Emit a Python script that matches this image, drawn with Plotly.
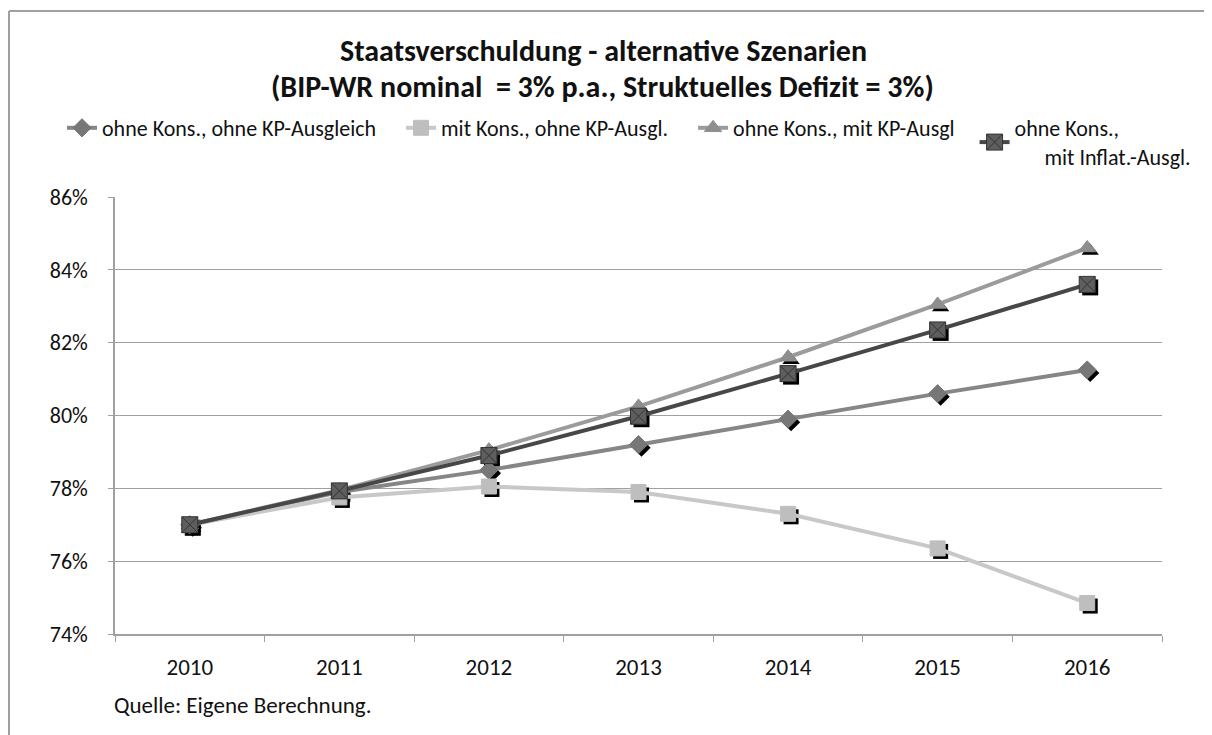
import plotly.graph_objects as go

years = ["2010", "2011", "2012", "2013", "2014", "2015", "2016"]
s_ohne_ohne = [77.0, 77.9, 78.5, 79.2, 79.9, 80.6, 81.25]
s_mit_ohne = [77.0, 77.75, 78.05, 77.9, 77.3, 76.35, 74.85]
s_ohne_mitKP = [77.0, 77.95, 79.05, 80.25, 81.6, 83.05, 84.6]
s_ohne_mitInfl = [77.0, 77.93, 78.9, 79.98, 81.15, 82.35, 83.6]

NB = "\u00a0"
names = ["ohne Kons., ohne KP-Ausgleich" + NB * 4, "mit Kons., ohne KP-Ausgl." + NB * 4,
         "ohne Kons., mit KP-Ausgl" + NB * 3,
         "ohne Kons.,<br>" + NB * 6 + "mit Inflat.-Ausgl."]
y_ticks = [74, 76, 78, 80, 82, 84, 86]
y_tick_labels = ["74%", "76%", "78%", "80%", "82%", "84%", "86%"]
title_1 = "Staatsverschuldung - alternative Szenarien"
title_2 = "(BIP-WR nominal  = 3% p.a., Struktuelles Defizit = 3%)"
source = "Quelle: Eigene Berechnung."

FONT = "Carlito, Calibri, Lato, sans-serif"
OFF = 8  # default body margin of the html page
W, H = 1212 - OFF, 735 - OFF
PX0, PX1, PY0, PY1 = 115, 1162, 197, 634  # plot area in page pixels
L, R, T, B = PX0 - OFF, W - (PX1 - OFF), PY0 - OFF, H - (PY1 - OFF)
pw, ph = PX1 - PX0, PY1 - PY0


def px(x):
    return (x - PX0) / pw


def py(y):
    return (PY1 - y) / ph


series = [s_ohne_ohne, s_mit_ohne, s_ohne_mitKP, s_ohne_mitInfl]
line_cols = ["#868686", "#C8C8C8", "#9B9B9B", "#474747"]
mk_cols = ["#777777", "#BEBEBE", "#8E8E8E", "#5E5E5E"]
symbols = ["diamond", "square", "triangle-up", "square-x"]
sizes = [14, 15, 15, 16]

fig = go.Figure()
for s, sym, sz in zip(series, symbols, sizes):
    fig.add_trace(go.Scatter(x=years, y=s, mode="markers", xaxis="x", yaxis="y",
                             marker=dict(symbol=sym.replace("-x", ""), size=sz, color="#000000"),
                             showlegend=False, hoverinfo="skip"))
for s, n, lc, mc, sym, sz in zip(series, names, line_cols, mk_cols, symbols, sizes):
    fig.add_trace(go.Scatter(x=years, y=s, name=n, mode="lines+markers", xaxis="x2", yaxis="y2",
                             line=dict(color=lc, width=4),
                             marker=dict(symbol=sym, size=sz, color=mc,
                                         line=dict(color="#333333" if sym == "square-x" else mc, width=1))))

dx = 3 / pw * 7
dy = 3 / ph * 12
fig.update_layout(
    width=W, height=H, paper_bgcolor="white", plot_bgcolor="white",
    margin=dict(l=L, r=R, t=T, b=B),
    font=dict(family=FONT, color="#000000"),
    xaxis=dict(type="category", range=[-0.5 - dx, 6.5 - dx], visible=False),
    yaxis=dict(range=[74 + dy, 86 + dy], visible=False),
    xaxis2=dict(type="category", overlaying="x", range=[-0.5, 6.5], showgrid=False,
                showline=True, linecolor="#A0A0A0", linewidth=1.5,
                ticks="outside", tickson="boundaries", ticklen=6, tickcolor="#A0A0A0",
                tickfont=dict(size=23, family=FONT, color="#111111"), ticklabelstandoff=12, side="bottom"),
    yaxis2=dict(overlaying="y", range=[74, 86], tickmode="array", tickvals=y_ticks, ticktext=y_tick_labels,
                showgrid=True, gridcolor="#A0A0A0", gridwidth=1,
                showline=True, linecolor="#A0A0A0", linewidth=1.5,
                ticks="outside", ticklen=5, tickcolor="#A0A0A0", zeroline=False,
                tickfont=dict(size=22, family=FONT, color="#111111"), ticklabelstandoff=16, side="left"),
    legend=dict(orientation="h", x=px(62), xanchor="left", y=py(107), yanchor="top",
                font=dict(size=22, family=FONT, color="#111111"), bgcolor="rgba(0,0,0,0)",
                traceorder="normal", itemwidth=30, tracegroupgap=0),
    showlegend=True,
)
fig.add_annotation(text="<b>" + title_1 + "</b>", xref="paper", yref="paper", x=px(603), y=py(50),
                   xanchor="center", yanchor="middle", showarrow=False,
                   font=dict(size=30, family=FONT, color="#111111"))
fig.add_annotation(text="<b>" + title_2 + "</b>", xref="paper", yref="paper", x=px(602), y=py(86),
                   xanchor="center", yanchor="middle", showarrow=False,
                   font=dict(size=30, family=FONT, color="#111111"))
fig.add_annotation(text=source, xref="paper", yref="paper", x=px(112), y=py(705),
                   xanchor="left", yanchor="middle", showarrow=False,
                   font=dict(size=23, family=FONT, color="#111111"))
fig.add_shape(type="line", xref="paper", yref="paper", x0=px(9), x1=px(1215),
              y0=py(11), y1=py(11), line=dict(color="#A0A0A0", width=2))
fig.add_shape(type="line", xref="paper", yref="paper", x0=px(9), x1=px(9),
              y0=py(11), y1=py(740), line=dict(color="#A0A0A0", width=2))

fig.write_html("out.html")
